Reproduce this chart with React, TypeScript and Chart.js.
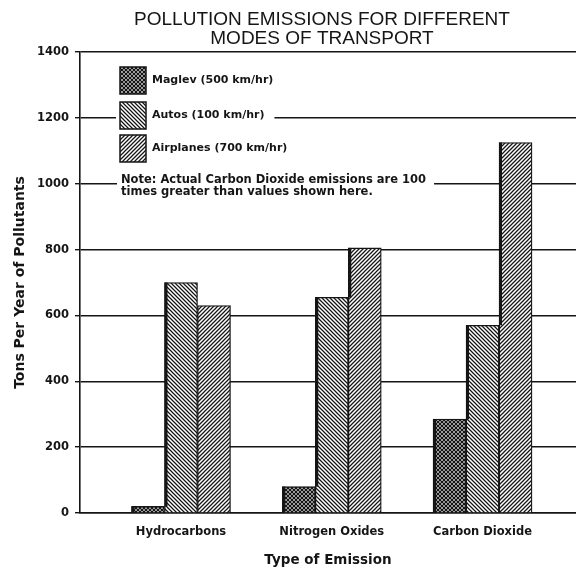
import React, { useEffect, useRef } from 'react';
import { Chart, registerables } from 'chart.js';

Chart.register(...registerables);

const categories = ['Hydrocarbons', 'Nitrogen Oxides', 'Carbon Dioxide'];
const maglev = [20, 80, 285];
const autos = [700, 655, 570];
const airplanes = [630, 805, 1125];
const seriesLabels = ['Maglev (500 km/hr)', 'Autos (100 km/hr)', 'Airplanes (700 km/hr)'];
const titleLines = ['POLLUTION EMISSIONS FOR DIFFERENT', 'MODES OF TRANSPORT'];
const noteLines = ['Note: Actual Carbon Dioxide emissions are 100', 'times greater than values shown here.'];
const yTitle = 'Tons Per Year of Pollutants';
const xTitle = 'Type of Emission';
const yMin = 0;
const yMax = 1400;
const yStep = 200;

const INK = '#151515';
const TFONT = "'Liberation Sans', Arial, sans-serif";
const FONT = "'DejaVu Sans', Verdana, sans-serif";

function makePattern(kind: string): CanvasPattern | string {
  const c = document.createElement('canvas');
  const s = 4;
  c.width = s;
  c.height = s;
  const g = c.getContext('2d');
  if (!g) return '#888';
  g.fillStyle = '#fff';
  g.fillRect(0, 0, s, s);
  g.strokeStyle = INK;
  g.lineCap = 'square';
  if (kind === 'back' || kind === 'cross') {
    g.lineWidth = kind === 'cross' ? 1.3 : 1.25;
    g.beginPath();
    for (let k = -1; k <= 1; k++) {
      g.moveTo(0, k * s);
      g.lineTo(s, s + k * s);
    }
    g.stroke();
  }
  if (kind === 'fwd' || kind === 'cross') {
    g.lineWidth = kind === 'cross' ? 1.3 : 1.25;
    g.beginPath();
    for (let k = 0; k <= 2; k++) {
      g.moveTo(0, k * s);
      g.lineTo(s, k * s - s);
    }
    g.stroke();
  }
  const p = g.createPattern(c, 'repeat');
  return p || '#888';
}

const titlePlugin = {
  id: 'twoLineTitle',
  afterDraw(chart: any) {
    const ctx = chart.ctx;
    ctx.save();
    ctx.fillStyle = INK;
    ctx.font = `19px ${TFONT}`;
    ctx.textAlign = 'center';
    ctx.textBaseline = 'middle';
    const cx = 322;
    ctx.fillText(titleLines[0], cx, 20);
    ctx.fillText(titleLines[1], cx, 38.5);
    ctx.restore();
  },
};

const edgePlugin = {
  id: 'shadowEdges',
  afterDatasetsDraw(chart: any) {
    const ctx = chart.ctx;
    const base = chart.scales.y.getPixelForValue(0);
    ctx.save();
    ctx.strokeStyle = INK;
    ctx.lineWidth = 3;
    for (let i = 0; i < categories.length; i++) {
      let prevTop = base;
      for (let d = 0; d < chart.data.datasets.length; d++) {
        const el = chart.getDatasetMeta(d).data[i];
        if (!el) continue;
        const top = el.y;
        const left = el.x - el.width / 2;
        if (top < prevTop) {
          ctx.beginPath();
          ctx.moveTo(left + 1.5, top);
          ctx.lineTo(left + 1.5, prevTop);
          ctx.stroke();
        }
        prevTop = top;
      }
    }
    ctx.restore();
  },
};

function makeLegendPlugin(patterns: (CanvasPattern | string)[]) {
  return {
    id: 'customLegend',
    afterDraw(chart: any) {
      const ctx = chart.ctx;
      ctx.save();
      const sx = 120;
      const sw = 26;
      const sh = 27;
      const tops = [67, 102, 135];
      const tx = 152;
      ctx.font = `bold 11px ${FONT}`;
      ctx.textBaseline = 'middle';
      ctx.textAlign = 'left';
      seriesLabels.forEach((lab, i) => {
        const top = tops[i];
        const w = ctx.measureText(lab).width;
        ctx.fillStyle = '#fff';
        ctx.fillRect(sx - 4, top - 2, tx + w + 10 - (sx - 4), sh + 4);
        ctx.fillStyle = patterns[i];
        ctx.fillRect(sx, top, sw, sh);
        ctx.strokeStyle = INK;
        ctx.lineWidth = 1.5;
        ctx.strokeRect(sx, top, sw, sh);
        ctx.fillStyle = INK;
        ctx.fillText(lab, tx, top + 13);
      });
      const nx = 121;
      const ny = [180, 192.5];
      ctx.font = `bold 11.5px ${FONT}`;
      let maxW = 0;
      noteLines.forEach((l) => (maxW = Math.max(maxW, ctx.measureText(l).width)));
      ctx.fillStyle = '#fff';
      ctx.fillRect(nx - 4, 172, maxW + 12, 28);
      ctx.fillStyle = INK;
      noteLines.forEach((l, i) => ctx.fillText(l, nx, ny[i]));
      ctx.restore();
    },
  };
}

export default function App() {
  const ref = useRef<HTMLCanvasElement | null>(null);

  useEffect(() => {
    if (!ref.current) return;
    const pMag = makePattern('cross');
    const pAuto = makePattern('back');
    const pAir = makePattern('fwd');
    const patterns = [pMag, pAuto, pAir];
    const series = [maglev, autos, airplanes];

    const datasets = series.map((vals, d) => ({
      label: seriesLabels[d],
      data: vals.map((v, i) => ({ x: i, y: v })),
      backgroundColor: patterns[d],
      borderColor: INK,
      borderWidth: 1.3,
      barThickness: 33,
    }));

    const chart = new Chart(ref.current, {
      type: 'bar',
      data: { datasets },
      plugins: [titlePlugin, edgePlugin, makeLegendPlugin(patterns)],
      options: {
        animation: false,
        responsive: false,
        maintainAspectRatio: false,
        layout: { padding: { top: 52, right: 0, left: 0, bottom: 0 } },
        plugins: {
          legend: { display: false },
          title: { display: false },
          tooltip: { enabled: false },
        },
        scales: {
          x: {
            type: 'linear',
            min: -0.67,
            max: 2.62,
            offset: false,
            afterBuildTicks: (scale: any) => {
              scale.ticks = categories.map((_, i) => ({ value: i }));
            },
            afterFit: (scale: any) => {
              scale.height = 56;
            },
            ticks: {
              autoSkip: false,
              maxRotation: 0,
              padding: 12,
              color: INK,
              font: { family: FONT, size: 11.5, weight: 'bold' },
              callback: (v: any) => categories[Math.round(Number(v))] ?? '',
            },
            grid: { display: false, drawTicks: false, offset: false },
            border: { display: true, color: INK, width: 1.5 },
            title: {
              display: true,
              text: xTitle,
              color: INK,
              font: { family: FONT, size: 13.5, weight: 'bold' },
              padding: { top: 0, bottom: 0 },
            },
          },
          y: {
            min: yMin,
            max: yMax,
            afterFit: (scale: any) => {
              scale.width = 80;
            },
            ticks: {
              stepSize: yStep,
              padding: 6,
              color: INK,
              font: { family: FONT, size: 11.5, weight: 'bold' },
              callback: (v: any) => String(v),
            },
            grid: { color: INK, lineWidth: 1.4, tickLength: 5, drawTicks: true },
            border: { display: true, color: INK, width: 1.6 },
            title: {
              display: true,
              text: yTitle,
              color: INK,
              font: { family: FONT, size: 14, weight: 'bold' },
              padding: { top: 12, bottom: 0 },
            },
          },
        },
      } as any,
    });
    return () => chart.destroy();
  }, []);

  return (
    <div style={{ position: 'absolute', left: 0, top: 0, width: 576, height: 569, background: '#fff' }}>
      <canvas ref={ref} width={576} height={569} style={{ display: 'block', width: 576, height: 569 }} />
    </div>
  );
}
